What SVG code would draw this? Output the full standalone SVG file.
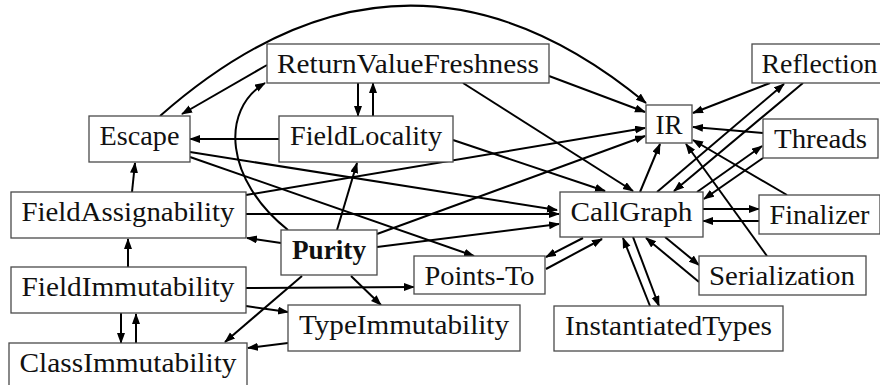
<svg xmlns="http://www.w3.org/2000/svg" width="880" height="385" viewBox="0 0 880 385">
  <style>
    .box { fill: #ffffff; stroke: #4a4a4a; stroke-width: 1.3; }
    .lbl { font-family: "Liberation Serif", "Times New Roman", serif; font-size: 28px; fill: #111111; text-anchor: middle; }
    .bold { font-weight: bold; }
    .edge { fill: none; stroke: #000000; stroke-width: 2; marker-end: url(#arrow); }
  </style>
  <defs>
    <marker id="arrow" markerUnits="userSpaceOnUse" markerWidth="12" markerHeight="10" refX="10" refY="4" orient="auto">
      <path d="M0,0 L11,4 L0,8 z" fill="#000000"/>
    </marker>
  </defs>
  <rect width="880" height="385" fill="#ffffff"/>

  <!-- dependency edges -->
  <g id="connectors">
    <path class="edge" d="M160,116 Q403,-98 646,103"/>
    <path class="edge" d="M267,65 L182,114"/>
    <path class="edge" d="M288,230 C225,180 220,110 265,83"/>
    <path class="edge" d="M358,83 L358,116"/>
    <path class="edge" d="M373,116 L373,83"/>
    <path class="edge" d="M279,139 L190,139"/>
    <path class="edge" d="M190,152 L557,210"/>
    <path class="edge" d="M190,157 L474,256"/>
    <path class="edge" d="M549,76 L645,112"/>
    <path class="edge" d="M463,83 L633,191"/>
    <path class="edge" d="M453,140 L605,191"/>
    <path class="edge" d="M337,230 L357,163"/>
    <path class="edge" d="M246,195 L645,128"/>
    <path class="edge" d="M246,214 L559,214"/>
    <path class="edge" d="M281,243 L247,238"/>
    <path class="edge" d="M377,247 L559,224"/>
    <path class="edge" d="M377,234 L645,136"/>
    <path class="edge" d="M351,276 L381,305"/>
    <path class="edge" d="M302,276 L225,342"/>
    <path class="edge" d="M246,288 L414,287"/>
    <path class="edge" d="M246,306 L288,312"/>
    <path class="edge" d="M288,343 L248,348"/>
    <path class="edge" d="M132,192 L135,163"/>
    <path class="edge" d="M128,267 L128,239"/>
    <path class="edge" d="M121,313 L121,343"/>
    <path class="edge" d="M136,343 L136,314"/>
    <path class="edge" d="M583,238 L546,257"/>
    <path class="edge" d="M546,269 L602,239"/>
    <path class="edge" d="M640,192 L660,144"/>
    <path class="edge" d="M657,192 L784,84"/>
    <path class="edge" d="M803,83 L674,191"/>
    <path class="edge" d="M770,83 L693,113"/>
    <path class="edge" d="M763,133 L693,127"/>
    <path class="edge" d="M697,192 L762,146"/>
    <path class="edge" d="M763,158 L704,199"/>
    <path class="edge" d="M787,195 L693,140"/>
    <path class="edge" d="M767,256 L686,144"/>
    <path class="edge" d="M703,209 L759,209"/>
    <path class="edge" d="M759,221 L703,221"/>
    <path class="edge" d="M665,237 L699,265"/>
    <path class="edge" d="M699,282 L646,238"/>
    <path class="edge" d="M633,237 L659,306"/>
    <path class="edge" d="M650,306 L623,238"/>
  </g>

  <g id="ReturnValueFreshness">
    <rect class="box" x="267" y="44" width="282" height="39"/>
    <text class="lbl" x="408" y="73" textLength="262" lengthAdjust="spacingAndGlyphs">ReturnValueFreshness</text>
  </g>
  <g id="FieldLocality">
    <rect class="box" x="279" y="116" width="174" height="46"/>
    <text class="lbl" x="366" y="145" textLength="152" lengthAdjust="spacingAndGlyphs">FieldLocality</text>
  </g>
  <g id="Escape">
    <rect class="box" x="89" y="116" width="101" height="46"/>
    <text class="lbl" x="139.5" y="145" textLength="80" lengthAdjust="spacingAndGlyphs">Escape</text>
  </g>
  <g id="IR">
    <rect class="box" x="646" y="105" width="46" height="38"/>
    <text class="lbl" x="669" y="134" textLength="27" lengthAdjust="spacingAndGlyphs">IR</text>
  </g>
  <g id="Reflection">
    <rect class="box" x="752" y="44" width="136" height="39"/>
    <text class="lbl" x="819.5" y="73" textLength="116" lengthAdjust="spacingAndGlyphs">Reflection</text>
  </g>
  <g id="Threads">
    <rect class="box" x="763" y="119" width="115" height="39"/>
    <text class="lbl" x="820.5" y="148" textLength="93" lengthAdjust="spacingAndGlyphs">Threads</text>
  </g>
  <g id="Finalizer">
    <rect class="box" x="759" y="195" width="121" height="39"/>
    <text class="lbl" x="819.5" y="224" textLength="100" lengthAdjust="spacingAndGlyphs">Finalizer</text>
  </g>
  <g id="CallGraph">
    <rect class="box" x="560" y="192" width="143" height="45"/>
    <text class="lbl" x="631.5" y="221" textLength="122" lengthAdjust="spacingAndGlyphs">CallGraph</text>
  </g>
  <g id="Serialization">
    <rect class="box" x="699" y="256" width="167" height="39"/>
    <text class="lbl" x="782" y="285" textLength="146" lengthAdjust="spacingAndGlyphs">Serialization</text>
  </g>
  <g id="InstantiatedTypes">
    <rect class="box" x="554" y="306" width="229" height="45"/>
    <text class="lbl" x="668.5" y="335" textLength="207" lengthAdjust="spacingAndGlyphs">InstantiatedTypes</text>
  </g>
  <g id="PointsTo">
    <rect class="box" x="414" y="256" width="131" height="38"/>
    <text class="lbl" x="479.5" y="285" textLength="110" lengthAdjust="spacingAndGlyphs">Points-To</text>
  </g>
  <g id="TypeImmutability">
    <rect class="box" x="288" y="305" width="232" height="46"/>
    <text class="lbl" x="404" y="334" textLength="210" lengthAdjust="spacingAndGlyphs">TypeImmutability</text>
  </g>
  <g id="Purity">
    <rect class="box" x="281" y="230" width="96" height="45"/>
    <text class="lbl bold" x="329" y="259" textLength="74" lengthAdjust="spacingAndGlyphs">Purity</text>
  </g>
  <g id="FieldAssignability">
    <rect class="box" x="11" y="192" width="235" height="46"/>
    <text class="lbl" x="128" y="221" textLength="213" lengthAdjust="spacingAndGlyphs">FieldAssignability</text>
  </g>
  <g id="FieldImmutability">
    <rect class="box" x="11" y="267" width="235" height="46"/>
    <text class="lbl" x="128" y="296" textLength="213" lengthAdjust="spacingAndGlyphs">FieldImmutability</text>
  </g>
  <g id="ClassImmutability">
    <rect class="box" x="9" y="343" width="238" height="46"/>
    <text class="lbl" x="128" y="372" textLength="217" lengthAdjust="spacingAndGlyphs">ClassImmutability</text>
  </g>
</svg>
